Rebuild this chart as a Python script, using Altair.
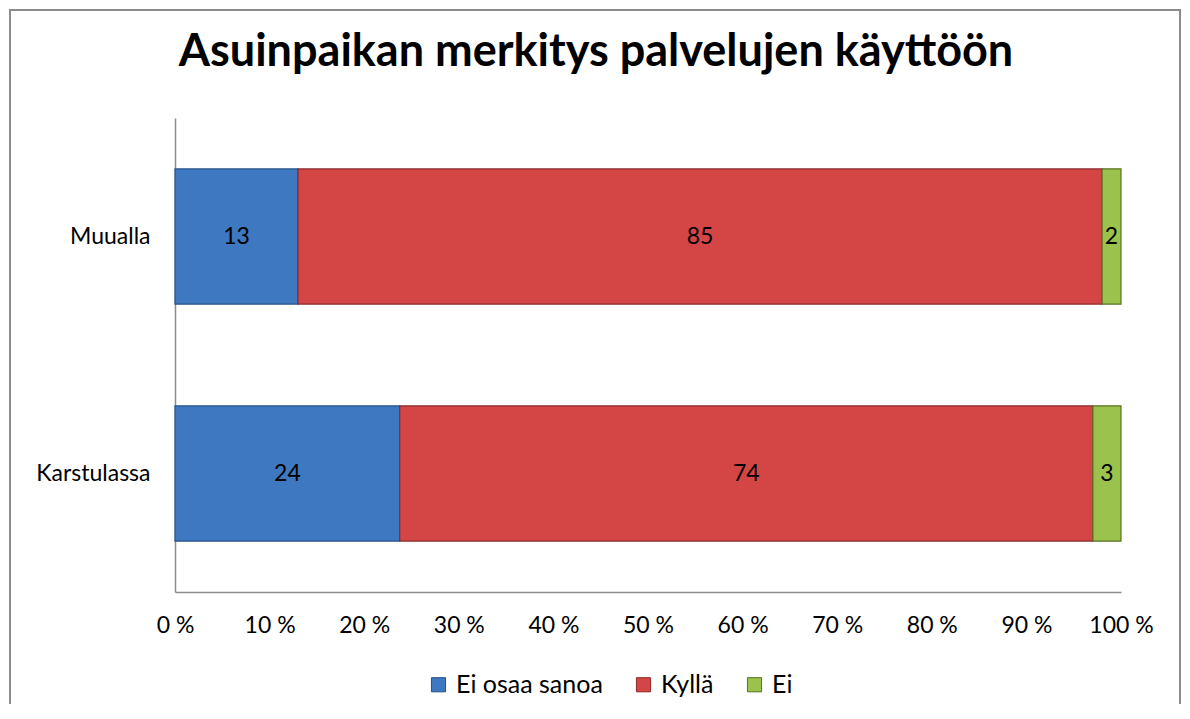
import altair as alt
import pandas as pd

categories = ["Muualla", "Karstulassa"]
responses = ["Ei osaa sanoa", "Kyllä", "Ei"]
muualla = [13, 85, 2]
karstulassa = [24, 74, 3]
colors = ["#3d78c0", "#d44545", "#9bc24c"]
strokes = ["#24528a", "#8c2a2a", "#56731f"]
x_ticks = [0, 0.1, 0.2, 0.3, 0.4, 0.5, 0.6, 0.7, 0.8, 0.9, 1.0]

rows = []
for cat, vals in zip(categories, [muualla, karstulassa]):
    for i, (r, v) in enumerate(zip(responses, vals)):
        rows.append({"paikka": cat, "vastaus": r, "value": v, "ord": i})
df = pd.DataFrame(rows)

FONT = "Lato"
FS = 23

y_enc = alt.Y(
    "paikka:N",
    sort=categories,
    scale=alt.Scale(paddingInner=0.43, paddingOuter=0.215),
    axis=alt.Axis(title=None, ticks=False, labelFontSize=FS, labelPadding=25,
                  labelColor="black", labelFont=FONT, domainColor="#8c8c8c",
                  domainWidth=1.5, grid=False),
)

bars = alt.Chart(df).mark_bar(strokeWidth=1.2).encode(
    y=y_enc,
    x=alt.X(
        "value:Q",
        stack="normalize",
        scale=alt.Scale(domain=[0, 1], nice=False),
        axis=alt.Axis(title=None, ticks=False, values=x_ticks, grid=False,
                      labelExpr="round(datum.value*100) + ' %'",
                      labelFontSize=FS, labelPadding=22, labelColor="black",
                      labelFont=FONT, domainColor="#8c8c8c", domainWidth=1.5,
                      labelFlush=False),
    ),
    color=alt.Color(
        "vastaus:N",
        sort=responses,
        scale=alt.Scale(domain=responses, range=colors),
        legend=alt.Legend(title=None, orient="none", legendX=251, legendY=554,
                          direction="horizontal", symbolType="square",
                          symbolSize=200, labelFontSize=25, labelFont=FONT,
                          labelColor="black", columnPadding=28, symbolStrokeWidth=1,
                          labelOffset=5),
    ),
    stroke=alt.Stroke("vastaus:N", scale=alt.Scale(domain=responses, range=strokes), legend=None),
    order=alt.Order("ord:Q"),
)

labels = alt.Chart(df).transform_stack(
    stack="value", groupby=["paikka"], as_=["x0", "x1"], offset="normalize",
    sort=[alt.SortField("ord", order="ascending")],
).transform_calculate(
    mid="(datum.x0 + datum.x1) / 2"
).mark_text(fontSize=FS, font=FONT, color="black").encode(
    y=alt.Y("paikka:N", sort=categories),
    x=alt.X("mid:Q"),
    text=alt.Text("value:Q"),
)

frame = alt.Chart(pd.DataFrame({"a": [0]})).mark_rect(
    fill=None, stroke="#8c8c8c", strokeWidth=2
).encode(
    x=alt.value(-165), x2=alt.value(1005),
    y=alt.value(-108), y2=alt.value(620),
)

chart = alt.layer(frame, bars, labels).properties(
    width=946,
    height=474,
    autosize=alt.AutoSizeParams(type="none"),
    padding={"left": 167, "top": 110, "right": 61, "bottom": 112},
    title=alt.Title("Asuinpaikan merkitys palvelujen käyttöön", fontSize=45,
                    fontWeight="bold", font=FONT, color="black", anchor="middle",
                    baseline="alphabetic", frame="group", dx=-52, offset=-102),
).configure_view(stroke=None)

chart.save("out.html", embed_options={"renderer": "svg", "actions": False})
